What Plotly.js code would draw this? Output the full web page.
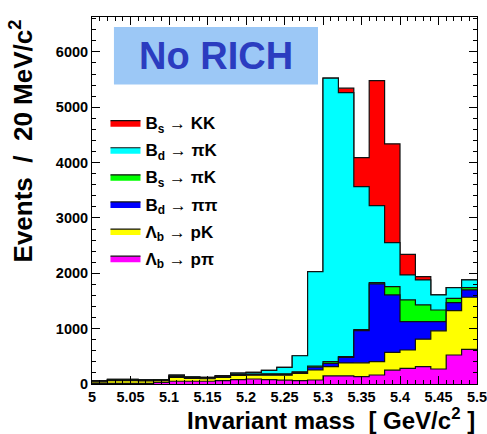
<!DOCTYPE html>
<html>
<head>
<meta charset="utf-8">
<script src="https://cdn.plot.ly/plotly-3.0.1.min.js"></script>
<style>html,body{margin:0;padding:0;background:#fff;}#chart{width:487px;height:434px;}</style>
</head>
<body>
<div id="chart"></div>
<script>
// Bin edges: 20 MeV bins from 5.00 to 5.50 GeV/c^2
const binEdges = [5.00,5.02,5.04,5.06,5.08,5.10,5.12,5.14,5.16,5.18,5.20,5.22,5.24,5.26,5.28,5.30,5.32,5.34,5.36,5.38,5.40,5.42,5.44,5.46,5.48,5.50];

// Per-bin (non-cumulative) contributions
const lbPpi  = [10,10,10,10,30,50,50,50,60,80,90,80,70,60,72,145,145,133,163,250,283,313,271,524,627];
const lbPK   = [30,50,50,45,30,70,50,45,60,75,70,80,90,130,181,168,235,250,240,320,331,497,689,801,940];
const bdPipi = [10,10,10,10,10,15,10,10,10,15,15,15,15,20,50,60,100,580,1407,1039,513,317,167,145,133];
const bsPiK  = [5,5,5,5,5,10,5,5,5,5,5,10,10,10,20,30,15,20,21,150,391,301,210,78,41];
const bdPiK  = [5,10,10,5,5,15,15,10,15,20,30,60,115,290,1707,5122,4770,2583,1392,795,452,452,272,193,139];
const bsKK   = [0,0,0,0,0,0,0,0,0,0,0,0,0,0,0,0,80,524,2259,1784,373,60,0,0,0];

const legendNames = [
  "B<sub>s</sub> \u2192 KK",
  "B<sub>d</sub> \u2192 \u03c0K",
  "B<sub>s</sub> \u2192 \u03c0K",
  "B<sub>d</sub> \u2192 \u03c0\u03c0",
  "\u039b<sub>b</sub> \u2192 pK",
  "\u039b<sub>b</sub> \u2192 p\u03c0"
];
const colors = ["#ff0000","#00ffff","#00ff00","#0000ff","#ffff00","#ff00ff"];

// stack from bottom: pπ, pK, ππ, Bs πK, Bd πK, KK
const layersBottomUp = [lbPpi, lbPK, bdPipi, bsPiK, bdPiK, bsKK];
const cum = [];
let run = new Array(lbPpi.length).fill(0);
for (const L of layersBottomUp) {
  run = run.map((v,i)=>v+L[i]);
  cum.push(run.slice());
}
// draw topmost cumulative first so lower layers overlay it
const traces = [];
for (let k = 5; k >= 0; k--) {
  const idx = 5 - k; // legend index
  const y = cum[k].concat([cum[k][cum[k].length-1]]);
  traces.push({
    x: binEdges, y: y, type: "scatter", mode: "lines",
    line: {shape: "hv", color: "#111", width: 1.2},
    fill: "tozeroy", fillcolor: colors[idx],
    name: legendNames[idx], legendgroup: "g"+idx,
    hoverinfo: "skip"
  });
}

const FAM = "Liberation Sans, Arial, sans-serif";
const bold = {family: FAM, size: 14.5, color: "#000", weight: "bold"};

const layout = {
  width: 487, height: 434,
  margin: {l: 92, r: 10, t: 17, b: 50},
  paper_bgcolor: "#fff", plot_bgcolor: "#fff",
  showlegend: true,
  legend: {
    x: 0.035, y: 0.76, xanchor: "left", yanchor: "top",
    bgcolor: "rgba(0,0,0,0)", borderwidth: 0,
    font: {family: FAM, size: 17, color: "#000", weight: "bold"},
    traceorder: "grouped", tracegroupgap: 2, itemwidth: 30
  },
  xaxis: {
    range: [5, 5.5], dtick: 0.05, tick0: 5,
    ticks: "inside", ticklen: 8, tickcolor: "#000",
    minor: {dtick: 0.01, ticks: "inside", ticklen: 4, tickcolor: "#000"},
    showline: true, linecolor: "#000", linewidth: 1, mirror: "ticks",
    showgrid: false, zeroline: false,
    tickfont: bold, ticklabeloverflow: "allow"
  },
  yaxis: {
    range: [0, 6630], dtick: 1000, tick0: 0,
    ticks: "inside", ticklen: 8, tickcolor: "#000",
    minor: {dtick: 200, ticks: "inside", ticklen: 4, tickcolor: "#000"},
    showline: true, linecolor: "#000", linewidth: 1, mirror: "ticks",
    showgrid: false, zeroline: false,
    tickfont: bold, ticklabeloverflow: "allow"
  },
  shapes: [{
    type: "rect", xref: "paper", yref: "paper",
    x0: 0.057, x1: 0.587, y0: 0.816, y1: 0.973,
    fillcolor: "#9cc8f6", line: {width: 0}, layer: "above"
  }],
  annotations: [
    {
      text: "No RICH", xref: "paper", yref: "paper", x: 0.322, y: 0.893,
      xanchor: "center", yanchor: "middle", showarrow: false,
      font: {family: FAM, size: 38, color: "#2b3cc0", weight: "bold"}
    },
    {
      text: "Invariant mass  [ GeV/c<sup>2</sup> ]", xref: "paper", yref: "paper",
      x: 1.0, y: -0.095, xanchor: "right", yanchor: "middle", showarrow: false,
      font: {family: FAM, size: 24, color: "#000", weight: "bold"}
    },
    {
      text: "Events  /  20 MeV/c<sup>2</sup>", xref: "paper", yref: "paper",
      x: -0.182, y: 1.0, xanchor: "center", yanchor: "top", textangle: -90, showarrow: false,
      font: {family: FAM, size: 26, color: "#000", weight: "bold"}
    }
  ]
};

Plotly.newPlot("chart", traces, layout, {displayModeBar: false, staticPlot: true});
</script>
</body>
</html>
